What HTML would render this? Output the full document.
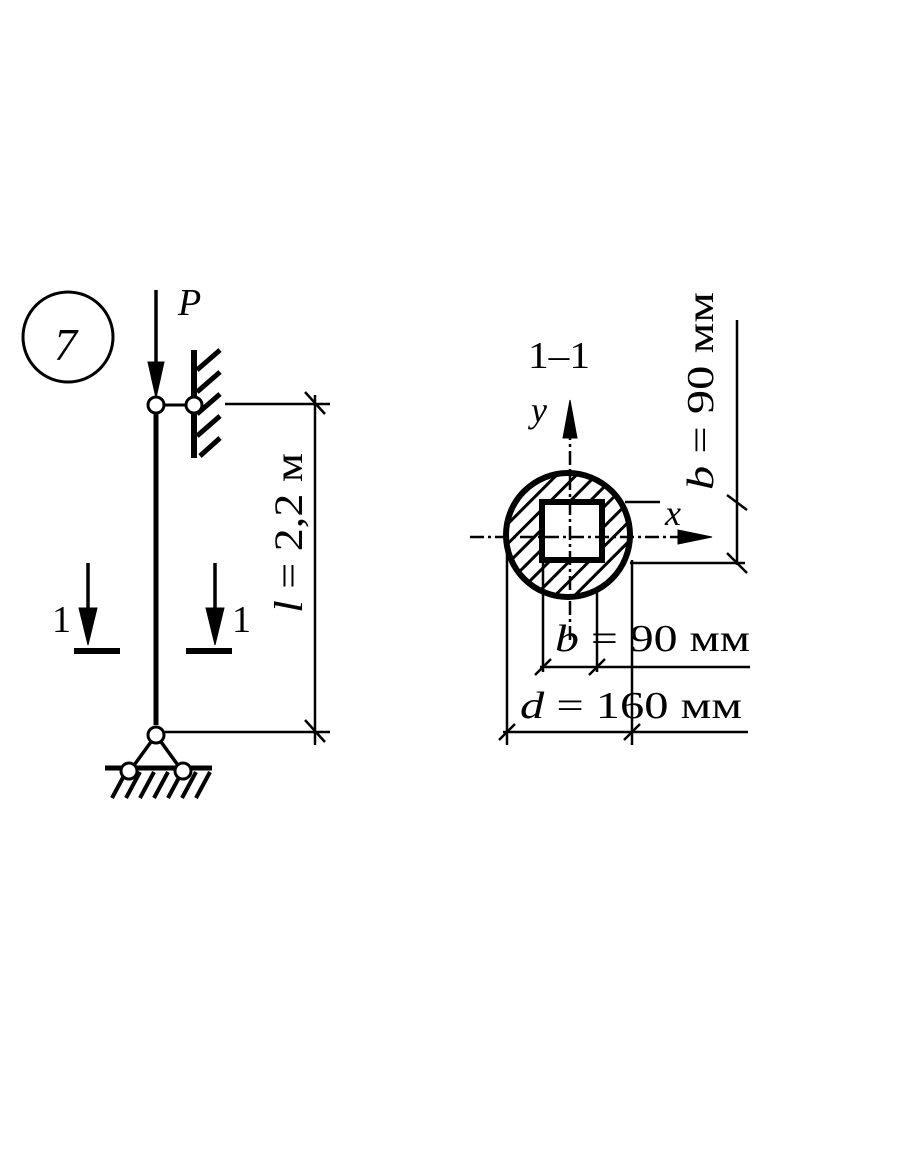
<!DOCTYPE html>
<html><head><meta charset="utf-8"><style>html,body{margin:0;padding:0;background:#fff}svg{display:block}</style></head>
<body>
<svg width="910" height="1155" viewBox="0 0 910 1155" xmlns="http://www.w3.org/2000/svg" font-family="Liberation Serif, serif">
<defs>
<pattern id="h" patternUnits="userSpaceOnUse" width="14" height="14" patternTransform="rotate(45)">
<line x1="0" y1="0" x2="0" y2="14" stroke="#000" stroke-width="6"/>
</pattern>
<clipPath id="ring"><path d="M506,535 a62,62 0 1,0 124,0 a62,62 0 1,0 -124,0 Z M542,502 V560 H602 V502 Z" clip-rule="evenodd"/></clipPath>
</defs>
<g stroke="#000" fill="none">
<circle cx="68" cy="337" r="45" stroke-width="3"/>
<line x1="156" y1="412" x2="156" y2="725" stroke-width="5"/>
<line x1="156" y1="290" x2="156" y2="370" stroke-width="3.5"/>
<polygon points="148,362 164,362 156,398" fill="#000"/>
<line x1="163" y1="405" x2="186" y2="405" stroke-width="3"/>
<circle cx="156" cy="405" r="8" fill="#fff" stroke-width="3"/>
<line x1="194" y1="350" x2="194" y2="458" stroke-width="6"/>
<g stroke-width="5"><line x1="197" y1="370" x2="220" y2="350"/><line x1="197" y1="392" x2="220" y2="372"/><line x1="197" y1="414" x2="220" y2="394"/><line x1="197" y1="436" x2="220" y2="416"/><line x1="200" y1="456" x2="220" y2="438"/></g>
<circle cx="194" cy="405" r="8" fill="#fff" stroke-width="3"/>
<line x1="225" y1="404" x2="330" y2="404" stroke-width="2.5"/>
<line x1="165" y1="732" x2="330" y2="732" stroke-width="2.5"/>
<line x1="315" y1="395" x2="315" y2="745" stroke-width="2.5"/>
<line x1="305" y1="392" x2="325" y2="414" stroke-width="2.5"/>
<line x1="305" y1="720" x2="325" y2="742" stroke-width="2.5"/>
<line x1="88" y1="563" x2="88" y2="620" stroke-width="3.5"/>
<polygon points="79,608 97,608 88,645" fill="#000"/>
<line x1="74" y1="651" x2="120" y2="651" stroke-width="6"/>
<line x1="215" y1="563" x2="215" y2="620" stroke-width="3.5"/>
<polygon points="206,608 224,608 215,645" fill="#000"/>
<line x1="186" y1="651" x2="232" y2="651" stroke-width="6"/>
<polygon points="156,735 132,768 180,768" stroke-width="3.5" fill="#fff"/>
<line x1="105" y1="768" x2="212" y2="768" stroke-width="5"/>
<g stroke-width="4"><line x1="112" y1="798" x2="126" y2="772"/><line x1="126" y1="798" x2="140" y2="772"/><line x1="140" y1="798" x2="154" y2="772"/><line x1="154" y1="798" x2="168" y2="772"/><line x1="168" y1="798" x2="182" y2="772"/><line x1="182" y1="798" x2="196" y2="772"/><line x1="196" y1="798" x2="210" y2="772"/></g>
<circle cx="156" cy="735" r="8" fill="#fff" stroke-width="3"/>
<circle cx="129" cy="771" r="8" fill="#fff" stroke-width="3"/>
<circle cx="183" cy="771" r="8" fill="#fff" stroke-width="3"/>
<rect x="500" y="465" width="140" height="140" fill="url(#h)" clip-path="url(#ring)" stroke="none"/>
<circle cx="568" cy="535" r="62" stroke-width="6"/>
<rect x="542" y="502" width="60" height="58" stroke-width="6"/>
<line x1="570" y1="640" x2="570" y2="430" stroke-width="2.5" stroke-dasharray="14,4,3,4"/>
<polygon points="563,438 577,438 570,400" fill="#000"/>
<line x1="470" y1="537" x2="685" y2="537" stroke-width="2.5" stroke-dasharray="14,4,3,4"/>
<polygon points="678,530 678,544 712,537" fill="#000"/>
<line x1="625" y1="502" x2="660" y2="502" stroke-width="2.5"/>
<line x1="630" y1="563" x2="745" y2="563" stroke-width="2.5"/>
<line x1="737" y1="320" x2="737" y2="565" stroke-width="2.5"/>
<line x1="727" y1="495" x2="747" y2="510" stroke-width="2.5"/>
<line x1="727" y1="553" x2="747" y2="573" stroke-width="2.5"/>
<line x1="507" y1="537" x2="507" y2="745" stroke-width="2.5"/>
<line x1="543" y1="560" x2="543" y2="672" stroke-width="2.5"/>
<line x1="597" y1="590" x2="597" y2="672" stroke-width="2.5"/>
<line x1="632" y1="560" x2="632" y2="745" stroke-width="2.5"/>
<line x1="540" y1="667" x2="750" y2="667" stroke-width="2.5"/>
<line x1="535" y1="675" x2="551" y2="659" stroke-width="2.5"/>
<line x1="589" y1="675" x2="605" y2="659" stroke-width="2.5"/>
<line x1="503" y1="732" x2="748" y2="732" stroke-width="2.5"/>
<line x1="499" y1="740" x2="515" y2="724" stroke-width="2.5"/>
<line x1="624" y1="740" x2="640" y2="724" stroke-width="2.5"/>
</g>
<g fill="#000">
<text x="54" y="360" font-size="46" font-style="italic">7</text>
<text x="178" y="315" font-size="38" font-style="italic">P</text>
<text x="52" y="632" font-size="38">1</text>
<text x="232" y="632" font-size="38">1</text>
<text transform="translate(302,613) rotate(-90)" font-size="40" textLength="160" lengthAdjust="spacingAndGlyphs"><tspan font-style="italic">l</tspan> = 2,2 м</text>
<text x="528" y="368" font-size="38" textLength="62" lengthAdjust="spacingAndGlyphs">1–1</text>
<text x="531" y="422" font-size="36" font-style="italic">y</text>
<text x="665" y="525" font-size="36" font-style="italic">x</text>
<text transform="translate(713,490) rotate(-90)" font-size="38" textLength="198" lengthAdjust="spacingAndGlyphs"><tspan font-style="italic">b</tspan> = 90 мм</text>
<text x="555" y="651" font-size="38" textLength="195" lengthAdjust="spacingAndGlyphs"><tspan font-style="italic">b</tspan> = 90 мм</text>
<text x="520" y="718" font-size="38" textLength="222" lengthAdjust="spacingAndGlyphs"><tspan font-style="italic">d</tspan> = 160 мм</text>
</g>
</svg>
</body></html>
